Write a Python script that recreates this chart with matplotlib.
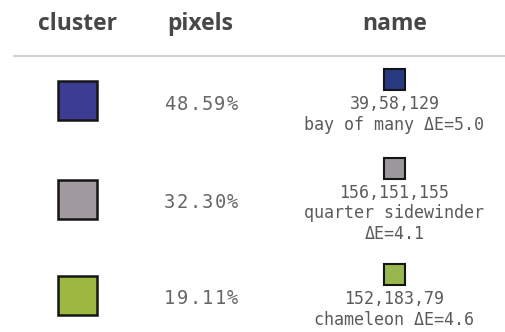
import textwrap
import matplotlib
matplotlib.use("Agg")
import matplotlib.pyplot as plt
from matplotlib.patches import Rectangle

# ---- data ----
headers = ["cluster", "pixels", "name"]
cluster_colors = ["#3c3c93", "#a0999f", "#9db741"]
pixel_share = [48.59, 32.30, 19.11]
name_rgb = [(39, 58, 129), (156, 151, 155), (152, 183, 79)]
color_names = ["bay of many", "quarter sidewinder", "chameleon"]
delta_e = [5.0, 4.1, 4.6]

# ---- layout (pixel coordinates) ----
W, H = 506, 332
fig = plt.figure(figsize=(W / 100, H / 100), dpi=100)
ax = fig.add_axes([0, 0, 1, 1])
ax.set_xlim(0, W)
ax.set_ylim(H, 0)
ax.axis("off")

col_x = [78, 200, 394.5]
row_c = [100.5, 199.5, 295.5]
mono = "DejaVu Sans Mono"

for x, h in zip(col_x, headers):
    ax.text(x, 30, h, ha="center", va="baseline", fontsize=16.5,
            fontweight="bold", family=["Open Sans", "DejaVu Sans"], color="#474747")
ax.plot([13, W], [56, 56], color="#d2d2d2", lw=1.6, solid_capstyle="butt")


def spaced(x_center, y, s, adv, **kw):
    n = len(s)
    x0 = x_center - adv * (n - 1) / 2
    for i, ch in enumerate(s):
        ax.text(x0 + i * adv, y, ch, ha="center", **kw)


for i in range(len(pixel_share)):
    yc = row_c[i]
    # cluster swatch
    ax.add_patch(Rectangle((col_x[0] - 19.5, yc - 19.5), 39, 39,
                           facecolor=cluster_colors[i], edgecolor="#151515", lw=1.8))
    # pixel share
    spaced(col_x[1] + 1, yc + 9, f"{pixel_share[i]:.2f}%", 12.6,
           va="baseline", fontsize=13.5, family=mono, color="#666666")
    # name block
    r, g, b = name_rgb[i]
    label = f"{color_names[i]} ΔE={delta_e[i]:.1f}"
    lines = [f"{r},{g},{b}"] + textwrap.wrap(label, 20)
    n = len(lines)
    block = 21 + n * 21
    top = yc - block / 2
    ax.add_patch(Rectangle((col_x[2] - 10.5, top), 21, 21,
                           facecolor=(r / 255, g / 255, b / 255), edgecolor="#151515", lw=1.5))
    for k, ln in enumerate(lines):
        ax.text(col_x[2], top + 21 + 19 + k * 20.7, ln, ha="center", va="baseline",
                fontsize=12, family=mono, color="#5a5a5a")

fig.savefig("out.png", dpi=100, facecolor="white")
